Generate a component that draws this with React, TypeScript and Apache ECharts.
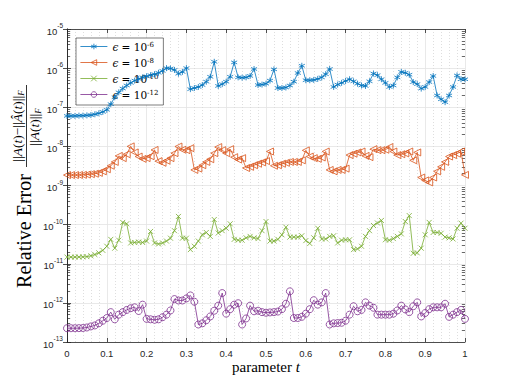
import React, { useEffect, useRef } from "react";
import * as echarts from "echarts";

const tValues = [
  0, 0.01, 0.02, 0.03, 0.04, 0.05, 0.06, 0.07, 0.08, 0.09,
  0.1, 0.11, 0.12, 0.13, 0.14, 0.15, 0.16, 0.17, 0.18, 0.19,
  0.2, 0.21, 0.22, 0.23, 0.24, 0.25, 0.26, 0.27, 0.28, 0.29,
  0.3, 0.31, 0.32, 0.33, 0.34, 0.35, 0.36, 0.37, 0.38, 0.39,
  0.4, 0.41, 0.42, 0.43, 0.44, 0.45, 0.46, 0.47, 0.48, 0.49,
  0.5, 0.51, 0.52, 0.53, 0.54, 0.55, 0.56, 0.57, 0.58, 0.59,
  0.6, 0.61, 0.62, 0.63, 0.64, 0.65, 0.66, 0.67, 0.68, 0.69,
  0.7, 0.71, 0.72, 0.73, 0.74, 0.75, 0.76, 0.77, 0.78, 0.79,
  0.8, 0.81, 0.82, 0.83, 0.84, 0.85, 0.86, 0.87, 0.88, 0.89,
  0.9, 0.91, 0.92, 0.93, 0.94, 0.95, 0.96, 0.97, 0.98, 0.99,
  1,
];

const err6 = [
  6.0e-8, 6.0e-8, 6.0e-8, 6.1e-8, 6.1e-8, 6.2e-8, 6.3e-8, 6.6e-8, 7.0e-8, 7.6e-8,
  8.6e-8, 1.2e-7, 1.8e-7, 2.4e-7, 3.0e-7, 3.6e-7, 4.2e-7, 4.8e-7, 5.3e-7, 5.8e-7,
  6.2e-7, 6.6e-7, 7.0e-7, 7.6e-7, 8.5e-7, 1.0e-6, 9.8e-7, 9.0e-7, 7.2e-7, 8.0e-7,
  1.0e-6, 2.9e-7, 3.1e-7, 3.3e-7, 3.7e-7, 4.5e-7, 6.0e-7, 1.45e-6, 3.5e-7, 3.9e-7,
  4.5e-7, 6.0e-7, 1.4e-6, 5.8e-7, 5.7e-7, 5.8e-7, 6.3e-7, 9.5e-7, 3.7e-7, 3.8e-7,
  4.0e-7, 4.8e-7, 9.3e-7, 3.1e-7, 3.1e-7, 3.2e-7, 3.6e-7, 4.5e-7, 7.5e-7, 1.15e-6,
  4.9e-7, 4.9e-7, 5.0e-7, 5.3e-7, 5.8e-7, 7.0e-7, 9.5e-7, 3.3e-7, 3.8e-7, 4.2e-7,
  4.7e-7, 5.2e-7, 4.6e-7, 4.0e-7, 3.6e-7, 3.5e-7, 4.6e-7, 7.3e-7, 6.6e-7, 5.2e-7,
  4.2e-7, 3.3e-7, 3.6e-7, 5.8e-7, 8.0e-7, 7.6e-7, 6.8e-7, 4.4e-7, 3.9e-7, 3.0e-7,
  3.3e-7, 4.4e-7, 6.3e-7, 2.0e-7, 1.6e-7, 1.35e-7, 2.0e-7, 3.3e-7, 6.5e-7, 5.2e-7,
  5.2e-7,
];

const err8 = [
  1.85e-9, 1.85e-9, 1.85e-9, 1.86e-9, 1.87e-9, 1.9e-9, 1.95e-9, 2.0e-9, 2.1e-9, 2.3e-9,
  2.6e-9, 3.2e-9, 4.0e-9, 5.7e-9, 5.0e-9, 6.3e-9, 1.0e-8, 7.0e-9, 5.5e-9, 4.8e-9,
  5.0e-9, 5.6e-9, 8.1e-9, 4.2e-9, 3.8e-9, 4.3e-9, 5.0e-9, 6.7e-9, 9.9e-9, 8.2e-9,
  8.0e-9, 9.0e-9, 2.5e-9, 2.7e-9, 3.3e-9, 4.0e-9, 4.7e-9, 6.7e-9, 9.6e-9, 8.0e-9,
  6.7e-9, 8.5e-9, 5.3e-9, 4.6e-9, 5.0e-9, 2.8e-9, 3.0e-9, 3.3e-9, 3.6e-9, 3.9e-9,
  4.2e-9, 7.4e-9, 3.2e-9, 3.3e-9, 3.6e-9, 3.8e-9, 4.0e-9, 4.0e-9, 4.0e-9, 4.4e-9,
  7.9e-9, 5.5e-9, 5.0e-9, 4.8e-9, 5.2e-9, 7.4e-9, 2.5e-9, 2.3e-9, 2.5e-9, 2.5e-9,
  2.7e-9, 6.0e-9, 6.5e-9, 7.0e-9, 7.4e-9, 5.7e-9, 5.3e-9, 8.5e-9, 8.0e-9, 8.0e-9,
  8.2e-9, 9.6e-9, 7.4e-9, 6.0e-9, 6.3e-9, 6.6e-9, 7.4e-9, 4.4e-9, 7.0e-9, 1.6e-9,
  1.35e-9, 1.2e-9, 1.6e-9, 2.3e-9, 3.0e-9, 4.0e-9, 5.5e-9, 6.0e-9, 6.5e-9, 7.4e-9,
  1.87e-9,
];

const err10 = [
  1.48e-11, 1.48e-11, 1.48e-11, 1.49e-11, 1.5e-11, 1.52e-11, 1.6e-11, 1.72e-11, 1.9e-11, 2.2e-11,
  2.8e-11, 4.2e-11, 2.5e-11, 4.0e-11, 1.14e-10, 1.05e-10, 3.4e-11, 3.5e-11, 3.6e-11, 3.5e-11,
  3.8e-11, 6.7e-11, 3.4e-11, 3.2e-11, 3.4e-11, 3.8e-11, 4.5e-11, 7.0e-11, 1.62e-10, 4.5e-11,
  4.5e-11, 2.3e-11, 2.8e-11, 3.8e-11, 5.5e-11, 6.3e-11, 5.0e-11, 1.35e-10, 6.1e-11, 7.0e-11,
  8.1e-11, 1.05e-10, 4.2e-11, 4.0e-11, 4.0e-11, 4.6e-11, 5.0e-11, 4.6e-11, 4.4e-11, 7.0e-11,
  1.2e-10, 3.8e-11, 3.8e-11, 4.2e-11, 5.5e-11, 8.6e-11, 4.8e-11, 4.8e-11, 4.8e-11, 5.2e-11,
  3.9e-11, 3.3e-11, 4.6e-11, 8.1e-11, 4.3e-11, 4.3e-11, 5.0e-11, 5.2e-11, 3.4e-11, 4.0e-11,
  4.1e-11, 4.1e-11, 2.3e-11, 2.4e-11, 2.8e-11, 5.0e-11, 7.0e-11, 9.5e-11, 1.1e-10, 1.28e-10,
  4.1e-11, 4.0e-11, 4.4e-11, 5.0e-11, 5.8e-11, 1.2e-10, 1.7e-10, 1.85e-11, 1.9e-11, 2.5e-11,
  5.5e-11, 1.14e-10, 6.3e-11, 6.3e-11, 6.0e-11, 4.8e-11, 4.6e-11, 4.3e-11, 8.1e-11, 1.09e-10,
  8.1e-11,
];

const err12 = [
  2.25e-13, 2.25e-13, 2.25e-13, 2.26e-13, 2.28e-13, 2.35e-13, 2.5e-13, 2.65e-13, 3.0e-13, 3.5e-13,
  4.1e-13, 5.8e-13, 3.8e-13, 5.0e-13, 5.8e-13, 6.6e-13, 7.3e-13, 7.7e-13, 6.2e-13, 9.0e-13,
  3.9e-13, 3.8e-13, 3.7e-13, 3.8e-13, 4.3e-13, 5.0e-13, 6.4e-13, 1.25e-12, 1.15e-12, 1.15e-12,
  1.3e-12, 1.55e-12, 1.07e-12, 2.8e-13, 3.0e-13, 3.6e-13, 4.5e-13, 6.3e-13, 8.5e-13, 1.78e-12,
  5.3e-13, 6.9e-13, 9.0e-13, 9.8e-13, 2.8e-13, 4.0e-13, 8.5e-13, 6.1e-13, 6.3e-13, 5.8e-13,
  5.6e-13, 5.7e-13, 5.8e-13, 6.0e-13, 6.9e-13, 9.5e-13, 1.97e-12, 4.1e-13, 4.1e-13, 4.4e-13,
  5.3e-13, 6.9e-13, 1.17e-12, 9.0e-13, 1.03e-12, 1.78e-12, 2.8e-13, 3.0e-13, 3.05e-13, 3.1e-13,
  3.5e-13, 5.0e-13, 8.2e-13, 6.1e-13, 6.6e-13, 1.03e-12, 8.5e-13, 7.5e-13, 5.0e-13, 5.0e-13,
  5.0e-13, 5.0e-13, 5.3e-13, 6.4e-13, 8.5e-13, 6.8e-13, 5.8e-13, 8.2e-13, 1.03e-12, 4.5e-13,
  5.5e-13, 6.9e-13, 7.7e-13, 7.7e-13, 7.7e-13, 9.5e-13, 4.4e-13, 5.0e-13, 5.8e-13, 6.6e-13,
  3.9e-13,
];

const seriesNames = ["e6", "e8", "e10", "e12"];
const seriesExps = ["-6", "-8", "-10", "-12"];
const seriesColors = ["#0072BD", "#D95319", "#77AC30", "#7E2F8E"];
const decadeExps = [-13, -12, -11, -10, -9, -8, -7, -6];
const minorMultipliers = [2, 3, 4, 5, 6, 7, 8, 9];
const xTickLabels = ["0", "0.1", "0.2", "0.3", "0.4", "0.5", "0.6", "0.7", "0.8", "0.9", "1"];

const SYM_STAR = "path://M0,-10L0,10M-8.66,-5L8.66,5M-8.66,5L8.66,-5";
const SYM_TRI = "path://M0,5L10,0L10,10Z";
const SYM_X = "path://M0,0L10,10M0,10L10,0";

export default function App() {
  const ref = useRef<HTMLDivElement>(null);
  useEffect(() => {
    if (!ref.current) return;
    const chart = echarts.init(ref.current, undefined, { renderer: "svg" });
    const axisColor = "#262626";
    const gridColor = "#e3e3e3";
    const minorColor = "#d6d6d6";

    const minorVals: number[] = [];
    decadeExps.forEach((e) => minorMultipliers.forEach((m) => minorVals.push(m * Math.pow(10, e))));

    const minorGrid = minorVals.map((v) => ({ yAxis: v }));
    const minorTicksLeft = minorVals.map((v) => [
      { coord: [0, v] },
      { coord: [0.008, v] },
    ]);
    const minorTicksRight = minorVals.map((v) => [
      { coord: [0.992, v] },
      { coord: [1, v] },
    ]);

    const symbols = [SYM_STAR, SYM_TRI, SYM_X, "circle"];
    const sizes = [6, 7, 5, 7];
    const dataSets = [err6, err8, err10, err12];

    const series: any[] = dataSets.map((d, k) => ({
      name: seriesNames[k],
      type: "line",
      data: d.map((v, i) => [tValues[i], v]),
      symbol: symbols[k],
      symbolSize: sizes[k],
      showAllSymbol: true,
      lineStyle: { color: seriesColors[k], width: 0.8 },
      itemStyle: { color: "none", borderColor: seriesColors[k], borderWidth: 0.8 },
      emphasis: { disabled: true },
      z: 5,
    }));

    series.push({
      name: "grid",
      type: "line",
      data: [],
      silent: true,
      z: 1,
      markLine: {
        silent: true,
        symbol: "none",
        label: { show: false },
        lineStyle: { color: minorColor, type: [1, 2], width: 0.8 },
        data: minorGrid,
        animation: false,
      },
    });
    series.push({
      name: "ticks",
      type: "line",
      data: [],
      silent: true,
      z: 6,
      markLine: {
        silent: true,
        symbol: "none",
        label: { show: false },
        lineStyle: { color: axisColor, type: "solid", width: 0.7 },
        data: [...minorTicksLeft, ...minorTicksRight],
        animation: false,
      },
    });

    const legendRich = {
      i: { fontFamily: "DejaVu Serif", fontStyle: "italic", fontSize: 10.5, color: "#000" },
      n: { fontFamily: "DejaVu Serif", fontSize: 10.5, color: "#000" },
      s: { fontFamily: "DejaVu Serif", fontSize: 7, color: "#000", verticalAlign: "top", lineHeight: 10, padding: [0, 0, 6, 0] },
    };

    const option: any = {
      animation: false,
      backgroundColor: "#fff",
      grid: { left: 67, top: 29, width: 398, height: 313, show: false },
      xAxis: [
        {
          type: "value",
          min: 0,
          max: 1,
          interval: 0.1,
          axisLine: { show: true, lineStyle: { color: axisColor, width: 0.8 } },
          axisTick: { show: true, inside: true, length: 4, lineStyle: { color: axisColor, width: 0.8 } },
          axisLabel: {
            color: axisColor,
            fontSize: 9.5,
            fontFamily: "Liberation Sans",
            margin: 6,
            formatter: (v: number) => xTickLabels[Math.round(v * 10)],
          },
          splitLine: { show: true, lineStyle: { color: gridColor, width: 0.8 } },
          minorTick: { show: false, splitNumber: 5 },
          minorSplitLine: { show: true, lineStyle: { color: minorColor, type: [1, 2], width: 0.8 } },
        },
        {
          type: "value",
          position: "top",
          min: 0,
          max: 1,
          interval: 0.1,
          axisLine: { show: true, lineStyle: { color: axisColor, width: 0.8 } },
          axisTick: { show: true, inside: true, length: 4, lineStyle: { color: axisColor, width: 0.8 } },
          axisLabel: { show: false },
          splitLine: { show: false },
        },
      ],
      yAxis: [
        {
          type: "log",
          logBase: 10,
          min: 1e-13,
          max: 1e-5,
          splitNumber: 8,
          axisLine: { show: true, lineStyle: { color: axisColor, width: 0.8 } },
          axisTick: { show: true, inside: true, length: 4, lineStyle: { color: axisColor, width: 0.8 } },
          axisLabel: {
            color: axisColor,
            margin: 4,
            formatter: (v: number) => {
              const e = Math.round(Math.log10(v));
              return `{b|10}{s|${e}}`;
            },
            rich: {
              b: { fontSize: 9.5, fontFamily: "Liberation Sans", color: axisColor, lineHeight: 14, verticalAlign: "bottom" },
              s: { fontSize: 6.5, fontFamily: "Liberation Sans", color: axisColor, lineHeight: 14, verticalAlign: "top", padding: [0, 0, 6, 0] },
            },
          },
          splitLine: { show: true, lineStyle: { color: gridColor, width: 0.8 } },
        },
        {
          type: "log",
          logBase: 10,
          min: 1e-13,
          max: 1e-5,
          splitNumber: 8,
          position: "right",
          axisLine: { show: true, lineStyle: { color: axisColor, width: 0.8 } },
          axisTick: { show: true, inside: true, length: 4, lineStyle: { color: axisColor, width: 0.8 } },
          axisLabel: { show: false },
          splitLine: { show: false },
        },
      ],
      legend: {
        data: seriesNames,
        orient: "vertical",
        left: 76,
        top: 38,
        itemWidth: 27,
        itemHeight: 7,
        itemGap: 3,
        padding: [3, 5, 3, 4],
        backgroundColor: "#fff",
        borderColor: axisColor,
        borderWidth: 0.6,
        borderRadius: 0,
        selectedMode: false,
        itemStyle: { color: "rgba(0,0,0,0)", borderWidth: 0.8 },
        lineStyle: { width: 0.8 },
        textStyle: { rich: legendRich, fontSize: 10.5 },
        formatter: (name: string) => {
          const k = seriesNames.indexOf(name);
          return `{i|ϵ}{n| = 10}{s|${seriesExps[k]}}`;
        },
      },
      graphic: [
        {
          type: "text",
          x: 24,
          y: 231,
          rotation: Math.PI / 2,
          style: {
            text: "Relative Error",
            font: "20px 'Liberation Serif'",
            fill: "#000",
            align: "center",
            verticalAlign: "middle",
          },
        },
        {
          type: "text",
          x: 17,
          y: 126,
          rotation: Math.PI / 2,
          style: {
            text: "{n|||}{a|A}{n|(}{a|t}{n|)−||}{a|Â}{n|(}{a|t}{n|)||}{f|F}",
            align: "center",
            verticalAlign: "middle",
            rich: {
              n: { fontFamily: "Liberation Serif", fontSize: 13.5, fill: "#000" },
              a: { fontFamily: "Liberation Serif", fontStyle: "italic", fontSize: 13.5, fill: "#000" },
              f: { fontFamily: "Liberation Serif", fontStyle: "italic", fontSize: 9, fill: "#000", verticalAlign: "bottom", padding: [7, 0, 0, 0] },
            },
          },
        },
        {
          type: "line",
          shape: { x1: 26.5, y1: 85, x2: 26.5, y2: 167 },
          style: { stroke: "#000", lineWidth: 0.8 },
        },
        {
          type: "text",
          x: 34.5,
          y: 127,
          rotation: Math.PI / 2,
          style: {
            text: "{n|||}{a|A}{n|(}{a|t}{n|)||}{f|F}",
            align: "center",
            verticalAlign: "middle",
            rich: {
              n: { fontFamily: "Liberation Serif", fontSize: 13.5, fill: "#000" },
              a: { fontFamily: "Liberation Serif", fontStyle: "italic", fontSize: 13.5, fill: "#000" },
              f: { fontFamily: "Liberation Serif", fontStyle: "italic", fontSize: 9, fill: "#000", verticalAlign: "bottom", padding: [7, 0, 0, 0] },
            },
          },
        },
        {
          type: "text",
          x: 266,
          y: 367,
          style: {
            text: "{n|parameter }{a|t}",
            align: "center",
            verticalAlign: "middle",
            rich: {
              n: { fontFamily: "Liberation Serif", fontSize: 15, fill: "#000" },
              a: { fontFamily: "Liberation Serif", fontStyle: "italic", fontSize: 15, fill: "#000" },
            },
          },
        },
      ],
      series,
    };
    chart.setOption(option);
    return () => chart.dispose();
  }, []);
  return (
    <div
      ref={ref}
      style={{ position: "fixed", left: 0, top: 0, width: 514, height: 385, background: "#fff" }}
    />
  );
}
